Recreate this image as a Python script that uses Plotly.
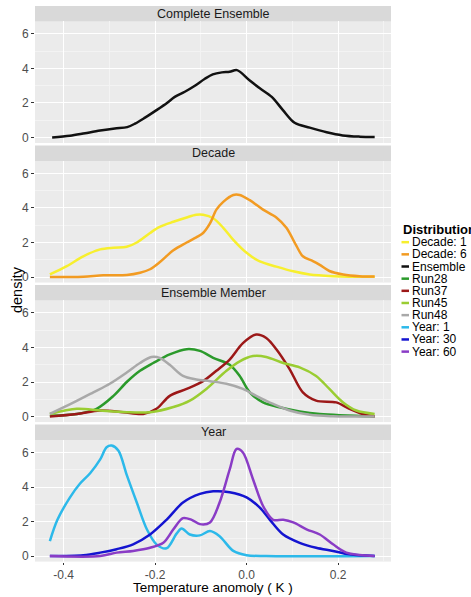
import plotly.graph_objects as go

W, H = 471, 597

# ---------------- data (temperature anomaly K, density) ----------------
ens_x = [-0.425, -0.386, -0.353, -0.320, -0.288, -0.261, -0.244, -0.222, -0.196, -0.174,
         -0.157, -0.135, -0.113, -0.091, -0.074, -0.054, -0.037, -0.021, 0.007, 0.029,
         0.055, 0.079, 0.105, 0.138, 0.175, 0.210, 0.247, 0.280]
ens_y = [0.0, 0.1, 0.25, 0.4, 0.52, 0.6, 0.8, 1.15, 1.6, 2.0,
         2.35, 2.65, 3.0, 3.4, 3.65, 3.77, 3.8, 3.9, 3.3, 2.85,
         2.35, 1.6, 0.85, 0.57, 0.3, 0.12, 0.05, 0.03]

dec1_x = [-0.43, -0.393, -0.357, -0.320, -0.291, -0.262, -0.240, -0.211, -0.190, -0.160,
          -0.131, -0.110, -0.095, -0.073, -0.051, -0.029, 0.000, 0.029, 0.065, 0.102,
          0.138, 0.189, 0.225, 0.280]
dec1_y = [0.15, 0.63, 1.2, 1.6, 1.7, 1.75, 2.0, 2.55, 2.9, 3.2,
          3.45, 3.6, 3.6, 3.4, 2.85, 2.15, 1.4, 0.9, 0.6, 0.33,
          0.15, 0.05, 0.02, 0.01]

dec6_x = [-0.43, -0.357, -0.313, -0.262, -0.233, -0.211, -0.190, -0.160, -0.131, -0.110,
          -0.095, -0.080, -0.066, -0.051, -0.029, -0.015, 0.007, 0.036, 0.065, 0.087,
          0.109, 0.123, 0.145, 0.160, 0.181, 0.211, 0.247, 0.280]
dec6_y = [0.0, 0.02, 0.1, 0.12, 0.25, 0.45, 0.85, 1.55, 2.0, 2.3,
          2.55, 3.1, 3.9, 4.35, 4.75, 4.75, 4.45, 3.9, 3.45, 2.85,
          1.8, 1.2, 0.92, 0.7, 0.35, 0.15, 0.05, 0.03]

run28_x = [-0.43, -0.371, -0.328, -0.291, -0.262, -0.233, -0.204, -0.168, -0.131, -0.102,
           -0.073, -0.037, -0.015, 0.007, 0.036, 0.072, 0.116, 0.160, 0.280]
run28_y = [0.05, 0.15, 0.45, 1.2, 2.0, 2.65, 3.1, 3.6, 3.9, 3.8,
           3.4, 3.0, 2.35, 1.4, 0.82, 0.54, 0.3, 0.15, 0.0]

run37_x = [-0.43, -0.371, -0.320, -0.270, -0.226, -0.197, -0.168, -0.131, -0.095, -0.066,
           -0.037, -0.008, 0.021, 0.043, 0.065, 0.094, 0.123, 0.152, 0.196, 0.225,
           0.254, 0.280]
run37_y = [0.0, 0.15, 0.35, 0.25, 0.15, 0.45, 1.2, 1.6, 2.05, 2.65,
           3.3, 4.25, 4.75, 4.55, 3.9, 2.75, 1.4, 0.92, 0.82, 0.45,
           0.15, 0.0]

run45_x = [-0.43, -0.371, -0.320, -0.262, -0.211, -0.160, -0.124, -0.088, -0.044, -0.015,
           0.014, 0.043, 0.080, 0.116, 0.152, 0.181, 0.211, 0.240, 0.280]
run45_y = [0.15, 0.45, 0.35, 0.25, 0.25, 0.55, 0.92, 1.6, 2.65, 3.2,
           3.5, 3.45, 3.1, 2.85, 2.35, 1.6, 0.82, 0.35, 0.15]

run48_x = [-0.43, -0.379, -0.335, -0.299, -0.262, -0.233, -0.208, -0.190, -0.168, -0.139,
           -0.110, -0.080, -0.044, -0.008, 0.021, 0.058, 0.094, 0.138, 0.189, 0.280]
run48_y = [0.15, 0.8, 1.4, 1.9, 2.55, 3.1, 3.45, 3.4, 3.0, 2.35,
           2.15, 2.05, 1.9, 1.6, 1.2, 0.73, 0.35, 0.1, 0.02, 0.0]

year1_x = [-0.43, -0.4135, -0.386, -0.364, -0.342, -0.320, -0.306, -0.295, -0.280, -0.262,
           -0.240, -0.218, -0.197, -0.175, -0.153, -0.142, -0.124, -0.102, -0.080, -0.059,
           -0.029, 0.000, 0.043, 0.280]
year1_y = [0.87, 2.1, 3.4, 4.2, 4.8, 5.6, 6.3, 6.4, 6.1, 4.7,
           3.1, 1.55, 0.68, 0.45, 1.3, 1.6, 1.25, 1.2, 1.45, 1.15,
           0.3, 0.05, 0.0, 0.0]

year30_x = [-0.43, -0.357, -0.320, -0.284, -0.248, -0.211, -0.175, -0.139, -0.102, -0.073,
            -0.037, 0.000, 0.029, 0.051, 0.080, 0.116, 0.152, 0.189, 0.225, 0.280]
year30_y = [0.0, 0.05, 0.2, 0.4, 0.68, 1.25, 2.1, 3.1, 3.6, 3.75,
            3.7, 3.4, 2.8, 2.1, 1.25, 0.77, 0.48, 0.3, 0.1, 0.0]

year60_x = [-0.43, -0.320, -0.284, -0.248, -0.211, -0.182, -0.160, -0.139, -0.120, -0.102,
            -0.080, -0.059, -0.037, -0.022, -0.008, 0.014, 0.036, 0.058, 0.080, 0.102,
            0.131, 0.160, 0.189, 0.218, 0.280]
year60_y = [0.0, 0.0, 0.2, 0.3, 0.48, 0.77, 1.55, 2.2, 2.1, 1.85,
            1.95, 3.1, 5.0, 6.2, 6.0, 4.45, 2.9, 2.1, 2.1, 1.95,
            1.55, 1.25, 0.68, 0.2, 0.0]

panel_titles = ["Complete Ensemble", "Decade", "Ensemble Member", "Year"]
series_names = ["Decade: 1", "Decade: 6", "Ensemble", "Run28", "Run37", "Run45", "Run48",
                "Year: 1", "Year: 30", "Year: 60"]
series_panels = [1, 1, 0, 2, 2, 2, 2, 3, 3, 3]
series_colors = ["#F7EF2E", "#F29B22", "#111111", "#2B9A2B", "#9C1818", "#9ACD32",
                 "#A9A9A9", "#2CB9EA", "#1414D0", "#8A3CC6"]
series_x = [dec1_x, dec6_x, ens_x, run28_x, run37_x, run45_x, run48_x, year1_x, year30_x, year60_x]
series_y = [dec1_y, dec6_y, ens_y, run28_y, run37_y, run45_y, run48_y, year1_y, year30_y, year60_y]

x_ticks = [-0.4, -0.2, 0.0, 0.2]
x_ticklabels = ["-0.4", "-0.2", "0.0", "0.2"]
y_ticks = [0, 2, 4, 6]

# ---------------- layout geometry ----------------
FONT = "Liberation Sans, Arial, sans-serif"
px_left, px_right = 35, 391
strip_top0, strip_h, panel_h, period = 6.0, 15.5, 122.0, 140.0
xdom = [px_left / W, px_right / W]
XR = [-0.4625, 0.3157]
YR = [-0.32, 6.72]

fig = go.Figure()

layout = dict(
    width=W, height=H, margin=dict(l=0, r=0, t=0, b=0),
    paper_bgcolor="white", plot_bgcolor="#EBEBEB",
    showlegend=False, font=dict(family=FONT, size=12, color="#4D4D4D"),
)
shapes, annots = [], []
for k, title in enumerate(panel_titles):
    st = strip_top0 + period * k
    pt = st + strip_h
    pb = pt + panel_h
    sfx = "" if k == 0 else str(k + 1)
    bottom = k == len(panel_titles) - 1
    layout["xaxis" + sfx] = dict(
        domain=xdom, range=XR, anchor="y" + sfx,
        tickvals=x_ticks, ticktext=x_ticklabels, showticklabels=bottom,
        ticks="outside" if bottom else "", ticklen=2, tickcolor="#333333", tickwidth=1,
        showgrid=True, gridcolor="white", gridwidth=1.1,
        minor=dict(tickvals=[-0.3, -0.1, 0.1, 0.3], showgrid=True, gridcolor="#F3F3F3", gridwidth=0.5),
        zeroline=False, showline=False, tickfont=dict(size=12, color="#4D4D4D"),
        **({} if k == 0 else dict(matches="x")),
    )
    layout["yaxis" + sfx] = dict(
        domain=[1 - pb / H, 1 - pt / H], range=YR, anchor="x" + sfx,
        tickvals=y_ticks, ticks="outside", ticklen=3, tickcolor="#333333", tickwidth=1,
        showgrid=True, gridcolor="white", gridwidth=1.1,
        minor=dict(tickvals=[1, 3, 5], showgrid=True, gridcolor="#F3F3F3", gridwidth=0.5),
        zeroline=False, showline=False, tickfont=dict(size=12, color="#4D4D4D"),
    )
    shapes.append(dict(type="rect", xref="paper", yref="paper",
                       x0=xdom[0], x1=xdom[1], y0=1 - pt / H, y1=1 - st / H,
                       fillcolor="#D9D9D9", line=dict(width=0), layer="below"))
    annots.append(dict(text=title, xref="paper", yref="paper",
                       x=(xdom[0] + xdom[1]) / 2, y=1 - (st + pt) / 2 / H,
                       xanchor="center", yanchor="middle", showarrow=False,
                       font=dict(size=12.5, color="#1A1A1A", family=FONT)))

for name, pnl, xs, ys, col in zip(series_names, series_panels, series_x, series_y, series_colors):
    sfx = "" if pnl == 0 else str(pnl + 1)
    fig.add_trace(go.Scatter(
        x=xs, y=ys, mode="lines", name=name,
        line=dict(color=col, width=2.5, shape="spline", smoothing=0.9),
        xaxis="x" + sfx, yaxis="y" + sfx, hoverinfo="skip",
    ))

# axis titles
annots.append(dict(text="Temperature anomoly ( K )", xref="paper", yref="paper",
                   x=(xdom[0] + xdom[1]) / 2, y=1 - 589 / H, xanchor="center", yanchor="middle",
                   showarrow=False, font=dict(size=13.5, color="black", family=FONT)))
annots.append(dict(text="density", xref="paper", yref="paper", textangle=-90,
                   x=17 / W, y=1 - 291 / H, xanchor="center", yanchor="middle",
                   showarrow=False, font=dict(size=14.5, color="black", family=FONT)))

# manual legend (ggplot style, compact)
leg_x, leg_title_y, leg_y0, leg_dy = 401.5, 230, 243, 12.2
annots.append(dict(text="<b>Distribution</b>", xref="paper", yref="paper",
                   x=(leg_x - 1) / W, y=1 - leg_title_y / H, xanchor="left", yanchor="middle",
                   showarrow=False, font=dict(size=13, color="black", family=FONT)))
for i, (name, col) in enumerate(zip(series_names, series_colors)):
    yy = leg_y0 + leg_dy * i
    shapes.append(dict(type="line", xref="paper", yref="paper",
                       x0=leg_x / W, x1=(leg_x + 7.5) / W, y0=1 - yy / H, y1=1 - yy / H,
                       line=dict(color=col, width=2.5)))
    annots.append(dict(text=name, xref="paper", yref="paper",
                       x=(leg_x + 8) / W, y=1 - yy / H, xanchor="left", yanchor="middle",
                       showarrow=False, font=dict(size=12, color="black", family=FONT)))

layout["shapes"] = shapes
layout["annotations"] = annots
fig.update_layout(**layout)
fig.write_html("out.html")
